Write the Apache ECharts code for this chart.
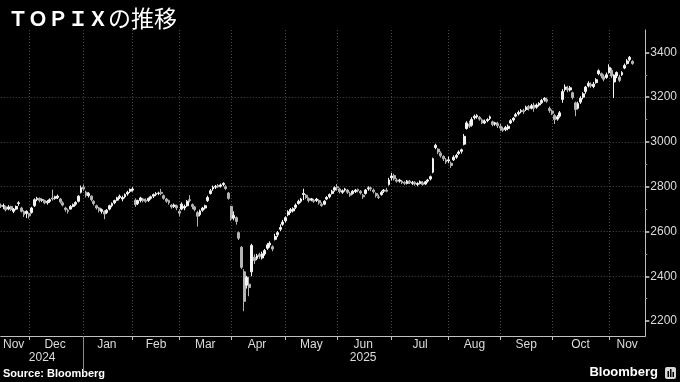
<!DOCTYPE html>
<html><head><meta charset="utf-8">
<script src="https://cdn.jsdelivr.net/npm/echarts@6/dist/echarts.min.js"></script>
<style>html,body{margin:0;padding:0;background:#000;}#c{width:680px;height:382px;}</style>
</head><body><div id="c"></div>
<script>
// ---- calendar (Tokyo Stock Exchange trading days) ----
const firstDay = '2024-11-14';
const lastDay = '2025-11-21';
const tseHolidays = ['2024-12-31','2025-01-01','2025-01-02','2025-01-03','2025-01-13','2025-02-11','2025-02-24',
  '2025-03-20','2025-04-29','2025-05-05','2025-05-06','2025-07-21','2025-08-11','2025-09-15','2025-09-23',
  '2025-10-13','2025-11-03'];
const monthNames = ['Jan','Feb','Mar','Apr','May','Jun','Jul','Aug','Sep','Oct','Nov','Dec'];
const yTickValues = [2200, 2400, 2600, 2800, 3000, 3200, 3400];
const yMinorValues = [2300, 2500, 2700, 2900, 3100, 3300];

// ---- daily candles: [open, close, low, high] ----
const nov2024 = [[2718,2712,2705,2725],[2712,2716,2700,2725],[2710,2697,2690,2715],[2700,2710,2695,2718],[2712,2698,2692,2715],[2690,2700,2682,2705],[2700,2712,2695,2716],[2725,2728,2715,2735],[2705,2690,2685,2710],[2690,2675,2665,2695],[2680,2690,2660,2695],[2680,2670,2658,2685]];
const dec2024 = [[2685,2705,2680,2710],[2715,2742,2710,2748],[2742,2748,2735,2755],[2748,2738,2730,2752],[2740,2742,2732,2748],[2738,2728,2722,2742],[2728,2735,2720,2740],[2735,2742,2728,2748],[2750,2745,2738,2787],[2748,2755,2742,2760],[2752,2758,2745,2765],[2745,2732,2725,2750],[2728,2718,2712,2735],[2705,2698,2688,2710],[2695,2690,2680,2702],[2700,2712,2698,2718],[2712,2720,2708,2725],[2722,2730,2715,2735],[2735,2758,2730,2762],[2775,2795,2770,2805],[2798,2790,2782,2810]];
const jan2025 = [[2775,2762,2752,2782],[2760,2770,2752,2776],[2758,2742,2735,2762],[2735,2725,2716,2740],[2715,2705,2698,2720],[2705,2695,2685,2710],[2690,2698,2680,2703],[2690,2678,2655,2695],[2685,2695,2678,2700],[2700,2715,2695,2720],[2715,2725,2708,2730],[2728,2738,2722,2742],[2740,2750,2735,2755],[2752,2758,2745,2765],[2745,2752,2735,2760],[2755,2765,2748,2770],[2768,2775,2760,2782],[2780,2788,2772,2792],[2785,2790,2778,2798]];
const feb2025 = [[2740,2720,2710,2748],[2725,2738,2718,2742],[2738,2750,2730,2755],[2745,2738,2730,2750],[2740,2735,2728,2748],[2738,2748,2732,2752],[2748,2755,2742,2760],[2758,2765,2750,2770],[2765,2770,2758,2776],[2770,2772,2762,2778],[2775,2770,2762,2790],[2760,2748,2742,2765],[2745,2735,2728,2750],[2738,2728,2720,2742],[2718,2710,2702,2722],[2712,2718,2705,2725],[2715,2705,2695,2720],[2690,2682,2668,2700]];
const mar2025 = [[2700,2722,2695,2730],[2705,2712,2695,2720],[2715,2735,2710,2740],[2742,2738,2730,2762],[2720,2712,2700,2725],[2710,2698,2690,2714],[2685,2668,2622,2692],[2675,2692,2668,2698],[2695,2705,2688,2710],[2705,2715,2698,2720],[2738,2752,2732,2760],[2770,2782,2765,2790],[2790,2798,2782,2805],[2798,2802,2790,2808],[2805,2800,2795,2812],[2802,2808,2796,2814],[2810,2815,2802,2820],[2800,2792,2785,2808],[2772,2748,2742,2776],[2712,2658,2648,2715]];
const apr2025 = [[2660,2672,2650,2690],[2662,2645,2631,2667],[2595,2570,2562,2600],[2530,2440,2432,2535],[2420,2288,2244,2432],[2360,2395,2345,2402],[2365,2350,2311,2398],[2420,2538,2400,2545],[2485,2470,2455,2498],[2480,2492,2472,2500],[2498,2488,2478,2505],[2482,2500,2475,2510],[2500,2515,2492,2522],[2525,2540,2518,2548],[2540,2548,2528,2556],[2532,2522,2512,2538],[2565,2578,2560,2590],[2585,2595,2575,2602],[2610,2618,2602,2632],[2632,2642,2625,2652],[2648,2662,2640,2668]];
const may2025 = [[2675,2688,2668,2695],[2690,2698,2682,2705],[2692,2702,2685,2708],[2708,2718,2700,2725],[2725,2735,2720,2742],[2735,2745,2728,2750],[2765,2770,2740,2791],[2762,2752,2745,2768],[2748,2738,2730,2752],[2740,2746,2735,2750],[2740,2735,2728,2746],[2738,2745,2732,2750],[2738,2728,2720,2744],[2722,2716,2710,2730],[2722,2735,2718,2740],[2745,2752,2740,2758],[2755,2765,2748,2770],[2770,2780,2765,2786],[2785,2796,2778,2802],[2800,2795,2782,2812]];
const jun2025 = [[2790,2778,2770,2795],[2775,2782,2768,2788],[2785,2790,2778,2795],[2785,2775,2768,2790],[2770,2762,2755,2778],[2770,2780,2765,2785],[2778,2785,2772,2790],[2788,2782,2775,2792],[2780,2772,2765,2785],[2762,2755,2745,2768],[2770,2785,2765,2790],[2790,2795,2782,2802],[2795,2790,2780,2800],[2785,2778,2770,2792],[2770,2760,2752,2775],[2755,2752,2745,2765],[2765,2775,2760,2782],[2780,2785,2772,2790],[2785,2780,2775,2795],[2810,2830,2805,2840],[2840,2848,2828,2862]];
const jul2025 = [[2850,2835,2828,2858],[2830,2825,2818,2838],[2825,2830,2818,2835],[2825,2818,2812,2830],[2820,2815,2808,2825],[2815,2825,2810,2830],[2825,2818,2812,2830],[2815,2820,2808,2826],[2820,2812,2805,2825],[2810,2815,2802,2820],[2815,2822,2810,2828],[2818,2810,2805,2825],[2812,2822,2808,2826],[2825,2830,2818,2835],[2835,2845,2828,2850],[2865,2925,2860,2930],[2975,2985,2968,2992],[2968,2955,2945,2972],[2950,2938,2930,2958],[2935,2925,2915,2940],[2920,2910,2902,2928],[2915,2920,2905,2935]];
const aug2025 = [[2905,2895,2884,2912],[2920,2932,2915,2940],[2932,2940,2925,2947],[2948,2955,2942,2962],[2958,2965,2948,2970],[2990,3025,2985,3035],[3060,3085,3055,3093],[3080,3070,3062,3095],[3075,3100,3068,3110],[3108,3115,3100,3122],[3112,3118,3104,3124],[3110,3102,3095,3116],[3098,3085,3080,3105],[3085,3092,3080,3100],[3095,3100,3088,3106],[3105,3112,3098,3118],[3090,3078,3070,3095],[3080,3085,3072,3090],[3082,3072,3062,3090],[3070,3062,3050,3080]];
const sep2025 = [[3060,3052,3045,3068],[3055,3065,3048,3072],[3060,3070,3052,3078],[3085,3095,3080,3102],[3098,3106,3090,3111],[3115,3122,3110,3130],[3125,3132,3118,3140],[3135,3140,3128,3147],[3140,3135,3125,3148],[3145,3155,3138,3162],[3158,3150,3140,3165],[3150,3162,3145,3170],[3165,3150,3135,3175],[3155,3165,3148,3172],[3165,3172,3158,3178],[3175,3185,3170,3192],[3188,3195,3180,3200],[3190,3182,3175,3198],[3150,3140,3130,3158],[3138,3128,3120,3145]];
const oct2025 = [[3118,3100,3080,3125],[3102,3112,3095,3120],[3115,3130,3108,3138],[3190,3225,3175,3236],[3235,3245,3225,3257],[3240,3232,3222,3250],[3232,3242,3225,3250],[3220,3198,3190,3225],[3175,3145,3115,3180],[3150,3172,3145,3180],[3178,3195,3170,3204],[3200,3215,3190,3222],[3225,3245,3215,3250],[3250,3262,3244,3271],[3258,3250,3242,3266],[3248,3258,3240,3268],[3265,3278,3260,3285],[3305,3318,3298,3324],[3305,3295,3285,3310],[3292,3280,3271,3302],[3288,3300,3282,3310],[3310,3332,3305,3347]];
const nov2025 = [[3320,3295,3285,3330],[3268,3298,3196,3302],[3295,3310,3285,3315],[3290,3275,3267,3300],[3300,3310,3295,3316],[3330,3342,3325,3350],[3350,3362,3345,3370],[3368,3378,3360,3384],[3360,3350,3345,3365]];

// ---- build categories ----
const dates = [];
{
  const d = new Date(firstDay + 'T00:00:00Z');
  const end = new Date(lastDay + 'T00:00:00Z').getTime();
  while (d.getTime() <= end) {
    const wd = d.getUTCDay();
    const s = d.toISOString().slice(0, 10);
    if (wd !== 0 && wd !== 6 && tseHolidays.indexOf(s) < 0) dates.push(s);
    d.setUTCDate(d.getUTCDate() + 1);
  }
}
const n = dates.length;
const candles = [].concat(nov2024, dec2024, jan2025, feb2025, mar2025, apr2025, may2025, jun2025, jul2025, aug2025, sep2025, oct2025, nov2025);
const seriesData = dates.map((d, i) => i < candles.length ? candles[i] : '-');

// month gridlines at the last trading day of each month; labels centred on each month span
const ym = d => d.slice(0, 7);
const gridIdx = new Set();
for (let i = 0; i < n - 1; i++) if (ym(dates[i]) !== ym(dates[i + 1])) gridIdx.add(i);
const monthLabel = {};
{
  let start = 0;
  for (let i = 0; i < n; i++) {
    if (i === n - 1 || ym(dates[i]) !== ym(dates[i + 1])) {
      const a = start === 0 ? 0 : start - 1;
      monthLabel[Math.floor((a + i) / 2)] = monthNames[+dates[i].slice(5, 7) - 1];
      start = i + 1;
    }
  }
}
const yearLabel = {};
let yearSep = -1;
{
  let start = 0;
  for (let i = 0; i < n; i++) {
    if (i === n - 1 || dates[i].slice(0, 4) !== dates[i + 1].slice(0, 4)) {
      const a = start === 0 ? 0 : start - 1;
      yearLabel[Math.floor((a + i) / 2)] = dates[i].slice(0, 4);
      if (i < n - 1) yearSep = i;
      start = i + 1;
    }
  }
}

const FONT = 'Liberation Sans';
const chart = echarts.init(document.getElementById('c'), null, {renderer: 'canvas'});
chart.setOption({
  backgroundColor: '#000000',
  animation: false,
  title: {
    left: 3, top: 2,
    text: '{a|ＴＯＰＩＸ}{b|の推移}',
    textStyle: {
      rich: {
        a: {fontFamily: 'Noto Sans CJK JP', fontWeight: 'bold', fontSize: 20, color: '#ffffff'},
        b: {fontFamily: 'Noto Sans CJK JP', fontWeight: 'normal', fontSize: 23, color: '#ffffff'}
      }
    }
  },
  grid: {left: 0, right: 34, top: 30, bottom: 46, containLabel: false},
  xAxis: [{
    type: 'category', data: dates, boundaryGap: false,
    axisLine: {show: true, lineStyle: {color: '#c0c0c0', width: 1}},
    axisTick: {show: true, length: 4, interval: i => gridIdx.has(i), lineStyle: {color: '#c0c0c0'}},
    axisLabel: {show: true, interval: i => monthLabel[i] !== undefined, formatter: (v, i) => monthLabel[i] || '',
      color: '#dcdcdc', fontFamily: FONT, fontSize: 12, margin: 3},
    splitLine: {show: true, interval: i => gridIdx.has(i), lineStyle: {color: '#4a4a4a', type: [1, 2], width: 1}}
  }, {
    type: 'category', data: dates, boundaryGap: false, position: 'bottom', gridIndex: 0,
    axisLine: {show: false},
    axisTick: {show: true, length: 36, interval: i => i === yearSep, lineStyle: {color: '#8a8a8a'}},
    axisLabel: {show: true, interval: i => yearLabel[i] !== undefined, formatter: (v, i) => yearLabel[i] || '',
      color: '#dcdcdc', fontFamily: FONT, fontSize: 12, margin: 16},
    splitLine: {show: false}
  }],
  yAxis: [{
    type: 'value', position: 'right', min: 2133.33, max: 3500, splitNumber: 7, scale: true,
    axisLine: {show: true, lineStyle: {color: '#c0c0c0', width: 1}},
    axisTick: {show: true, length: 4, customValues: yTickValues, lineStyle: {color: '#d8d8d8', width: 1.5}},
    axisLabel: {show: true, customValues: yTickValues, color: '#dcdcdc', fontFamily: FONT, fontSize: 12, margin: 5,
      formatter: v => String(Math.round(v))},
    splitLine: {show: true, showMinLine: false, showMaxLine: false, lineStyle: {color: '#4a4a4a', type: [1, 2], width: 1}}
  }, {
    type: 'value', position: 'right', min: 2133.33, max: 3500, splitNumber: 7, scale: true,
    axisLine: {show: false},
    axisTick: {show: true, length: 2, customValues: yMinorValues, lineStyle: {color: '#8a8a8a'}},
    axisLabel: {show: false},
    splitLine: {show: false}
  }],
  series: [{
    type: 'candlestick', xAxisIndex: 0, yAxisIndex: 0,
    data: seriesData,
    barWidth: 2.4,
    itemStyle: {color: '#f4f4f4', color0: '#b4b4b4', borderColor: '#f4f4f4', borderColor0: '#b4b4b4', borderWidth: 1}
  }],
  graphic: [
    {type: 'text', left: 3, top: 368, style: {text: 'Source: Bloomberg', fill: '#ffffff', font: 'bold 11px "Liberation Sans"'}},
    {type: 'text', right: 22, top: 366, style: {text: 'Bloomberg', fill: '#ffffff', font: 'bold 13px "Liberation Sans"'}},
    {type: 'group', right: 4, top: 367, children: [
      {type: 'rect', shape: {x: 0, y: 0, width: 11, height: 12, r: 2}, style: {fill: '#d8d8d8'}},
      {type: 'rect', shape: {x: 2.5, y: 4, width: 1.5, height: 6}, style: {fill: '#000'}},
      {type: 'rect', shape: {x: 5, y: 2, width: 1.5, height: 8}, style: {fill: '#000'}},
      {type: 'rect', shape: {x: 7.5, y: 5, width: 1.5, height: 5}, style: {fill: '#000'}}
    ]}
  ]
});
</script></body></html>
